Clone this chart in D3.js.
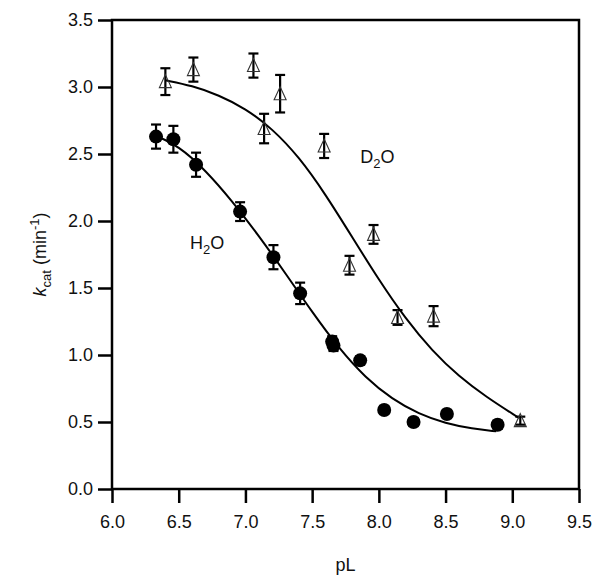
<!DOCTYPE html>
<html>
<head>
<meta charset="utf-8">
<script src="https://cdn.jsdelivr.net/npm/d3@7"></script>
<style>
    body { margin: 0; background: #fff; }
    text { font-family: "Liberation Sans", Arial, sans-serif; }
</style>
</head>
<body>
<div id="chart"></div>
<script>
////////// DATA //////////

// H2O measurements (filled circles)
var h2o_pl = [6.33, 6.46, 6.63, 6.96, 7.21, 7.41, 7.65, 7.66, 7.86, 8.04, 8.26, 8.51, 8.89];
var h2o_kcat = [2.63, 2.61, 2.42, 2.07, 1.73, 1.46, 1.10, 1.07, 0.96, 0.59, 0.50, 0.56, 0.48];
var h2o_err = [0.09, 0.10, 0.09, 0.07, 0.09, 0.08, 0.04, 0.04, 0.03, 0.03, 0.03, 0.03, 0.03];

// D2O measurements (open triangles)
var d2o_pl = [6.40, 6.61, 7.06, 7.14, 7.26, 7.59, 7.78, 7.96, 8.14, 8.41, 9.06];
var d2o_kcat = [3.04, 3.13, 3.16, 2.69, 2.95, 2.56, 1.67, 1.90, 1.28, 1.29, 0.51];
var d2o_err = [0.10, 0.09, 0.09, 0.11, 0.14, 0.09, 0.07, 0.07, 0.055, 0.075, 0.03];

// fitted curves
var h2o_fit_pl = [6.32, 6.50, 6.70, 6.90, 7.10, 7.30, 7.50, 7.70, 7.90, 8.10, 8.30, 8.50, 8.70, 8.88];
var h2o_fit_kcat = [2.64, 2.56, 2.38, 2.15, 1.89, 1.61, 1.32, 1.05, 0.83, 0.67, 0.56, 0.49, 0.45, 0.43];
var d2o_fit_pl = [6.40, 6.60, 6.80, 7.00, 7.20, 7.40, 7.60, 7.80, 8.00, 8.20, 8.40, 8.60, 8.80, 9.05];
var d2o_fit_kcat = [3.05, 3.01, 2.94, 2.84, 2.69, 2.48, 2.20, 1.88, 1.56, 1.27, 1.03, 0.84, 0.69, 0.53];

var x_ticks = [6.0, 6.5, 7.0, 7.5, 8.0, 8.5, 9.0, 9.5];
var y_ticks = [0.0, 0.5, 1.0, 1.5, 2.0, 2.5, 3.0, 3.5];

////////// CHART //////////

var W = 600, H = 575;
var margin = {top: 20, right: 21, bottom: 86, left: 112};

var svg = d3.select("#chart")
    .append("svg")
    .attr("width", W)
    .attr("height", H);

var x = d3.scaleLinear().domain([6, 9.5]).range([margin.left, W - margin.right]);
var y = d3.scaleLinear().domain([0, 3.5]).range([H - margin.bottom, margin.top]);

/**
 * zips two arrays into point objects
 */
function zip_points(xs, ys, errs) {
    return xs.map(function(v, i) {
        return {x: v, y: ys[i], e: errs ? errs[i] : 0};
    });
}

var h2o = zip_points(h2o_pl, h2o_kcat, h2o_err);
var d2o = zip_points(d2o_pl, d2o_kcat, d2o_err);

// axes
var x_axis = svg.append("g")
    .attr("transform", "translate(0," + y(0) + ")")
    .call(d3.axisBottom(x).tickValues(x_ticks).tickSize(14).tickPadding(12).tickFormat(d3.format(".1f")));
var y_axis = svg.append("g")
    .attr("transform", "translate(" + x(6) + ",0)")
    .call(d3.axisLeft(y).tickValues(y_ticks).tickSize(14).tickPadding(5).tickFormat(d3.format(".1f")));

[x_axis, y_axis].forEach(function(a) {
    a.select(".domain").remove();
    a.selectAll(".tick line").attr("stroke", "#000").attr("stroke-width", 2.5);
    a.selectAll(".tick text").attr("fill", "#111").style("font-size", "18px");
});

// frame
svg.append("rect")
    .attr("x", x(6))
    .attr("y", y(3.5))
    .attr("width", x(9.5) - x(6))
    .attr("height", y(0) - y(3.5))
    .attr("fill", "none")
    .attr("stroke", "#000")
    .attr("stroke-width", 2.5);

// fit lines
var line = d3.line()
    .x(function(d) { return x(d.x); })
    .y(function(d) { return y(d.y); })
    .curve(d3.curveBasis);

svg.append("path")
    .datum(zip_points(h2o_fit_pl, h2o_fit_kcat))
    .attr("d", line)
    .attr("fill", "none")
    .attr("stroke", "#000")
    .attr("stroke-width", 2);

svg.append("path")
    .datum(zip_points(d2o_fit_pl, d2o_fit_kcat))
    .attr("d", line)
    .attr("fill", "none")
    .attr("stroke", "#000")
    .attr("stroke-width", 2);

/**
 * draws vertical error bars with caps
 */
function error_bars(data, cap) {
    var g = svg.append("g").attr("stroke", "#000").attr("stroke-width", 2.2);
    data.forEach(function(d) {
        var cx = x(d.x), top = y(d.y + d.e), bot = y(d.y - d.e);
        g.append("line").attr("x1", cx).attr("x2", cx).attr("y1", top).attr("y2", bot);
        g.append("line").attr("x1", cx - cap).attr("x2", cx + cap).attr("y1", top).attr("y2", top);
        g.append("line").attr("x1", cx - cap).attr("x2", cx + cap).attr("y1", bot).attr("y2", bot);
    });
}

// D2O triangles
error_bars(d2o, 5);
svg.append("g")
    .selectAll("path")
    .data(d2o)
    .enter()
    .append("path")
    .attr("d", function(d) {
        var cx = x(d.x), cy = y(d.y);
        return "M" + cx + "," + (cy - 7) + "L" + (cx + 6) + "," + (cy + 6) + "L" + (cx - 6) + "," + (cy + 6) + "Z";
    })
    .attr("fill", "none")
    .attr("stroke", "#333")
    .attr("stroke-width", 1.1);

// H2O circles
error_bars(h2o, 5);
svg.append("g")
    .selectAll("circle")
    .data(h2o)
    .enter()
    .append("circle")
    .attr("cx", function(d) { return x(d.x); })
    .attr("cy", function(d) { return y(d.y); })
    .attr("r", 7)
    .attr("fill", "#000");

// series labels
function sub_label(px, py, main, sub, rest) {
    var t = svg.append("text")
        .attr("x", px)
        .attr("y", py)
        .style("font-size", "18px")
        .attr("fill", "#111");
    t.append("tspan").text(main);
    t.append("tspan").attr("dy", 5).style("font-size", "13px").text(sub);
    t.append("tspan").attr("dy", -5).text(rest);
}
sub_label(x(6.585), y(1.79), "H", "2", "O");
sub_label(x(7.86), y(2.43), "D", "2", "O");

// axis titles
svg.append("text")
    .attr("x", x(7.75))
    .attr("y", 571)
    .attr("text-anchor", "middle")
    .style("font-size", "18px")
    .attr("fill", "#111")
    .text("pL");

var ylab = svg.append("text")
    .attr("transform", "translate(46," + y(1.75) + ") rotate(-90)")
    .attr("text-anchor", "middle")
    .style("font-size", "18px")
    .attr("fill", "#111");
ylab.append("tspan").style("font-style", "italic").text("k");
ylab.append("tspan").attr("dy", 5).style("font-size", "13px").text("cat");
ylab.append("tspan").attr("dy", -5).text(" (min");
ylab.append("tspan").attr("dy", -7).style("font-size", "13px").text("-1");
ylab.append("tspan").attr("dy", 7).text(")");
</script>
</body>
</html>
